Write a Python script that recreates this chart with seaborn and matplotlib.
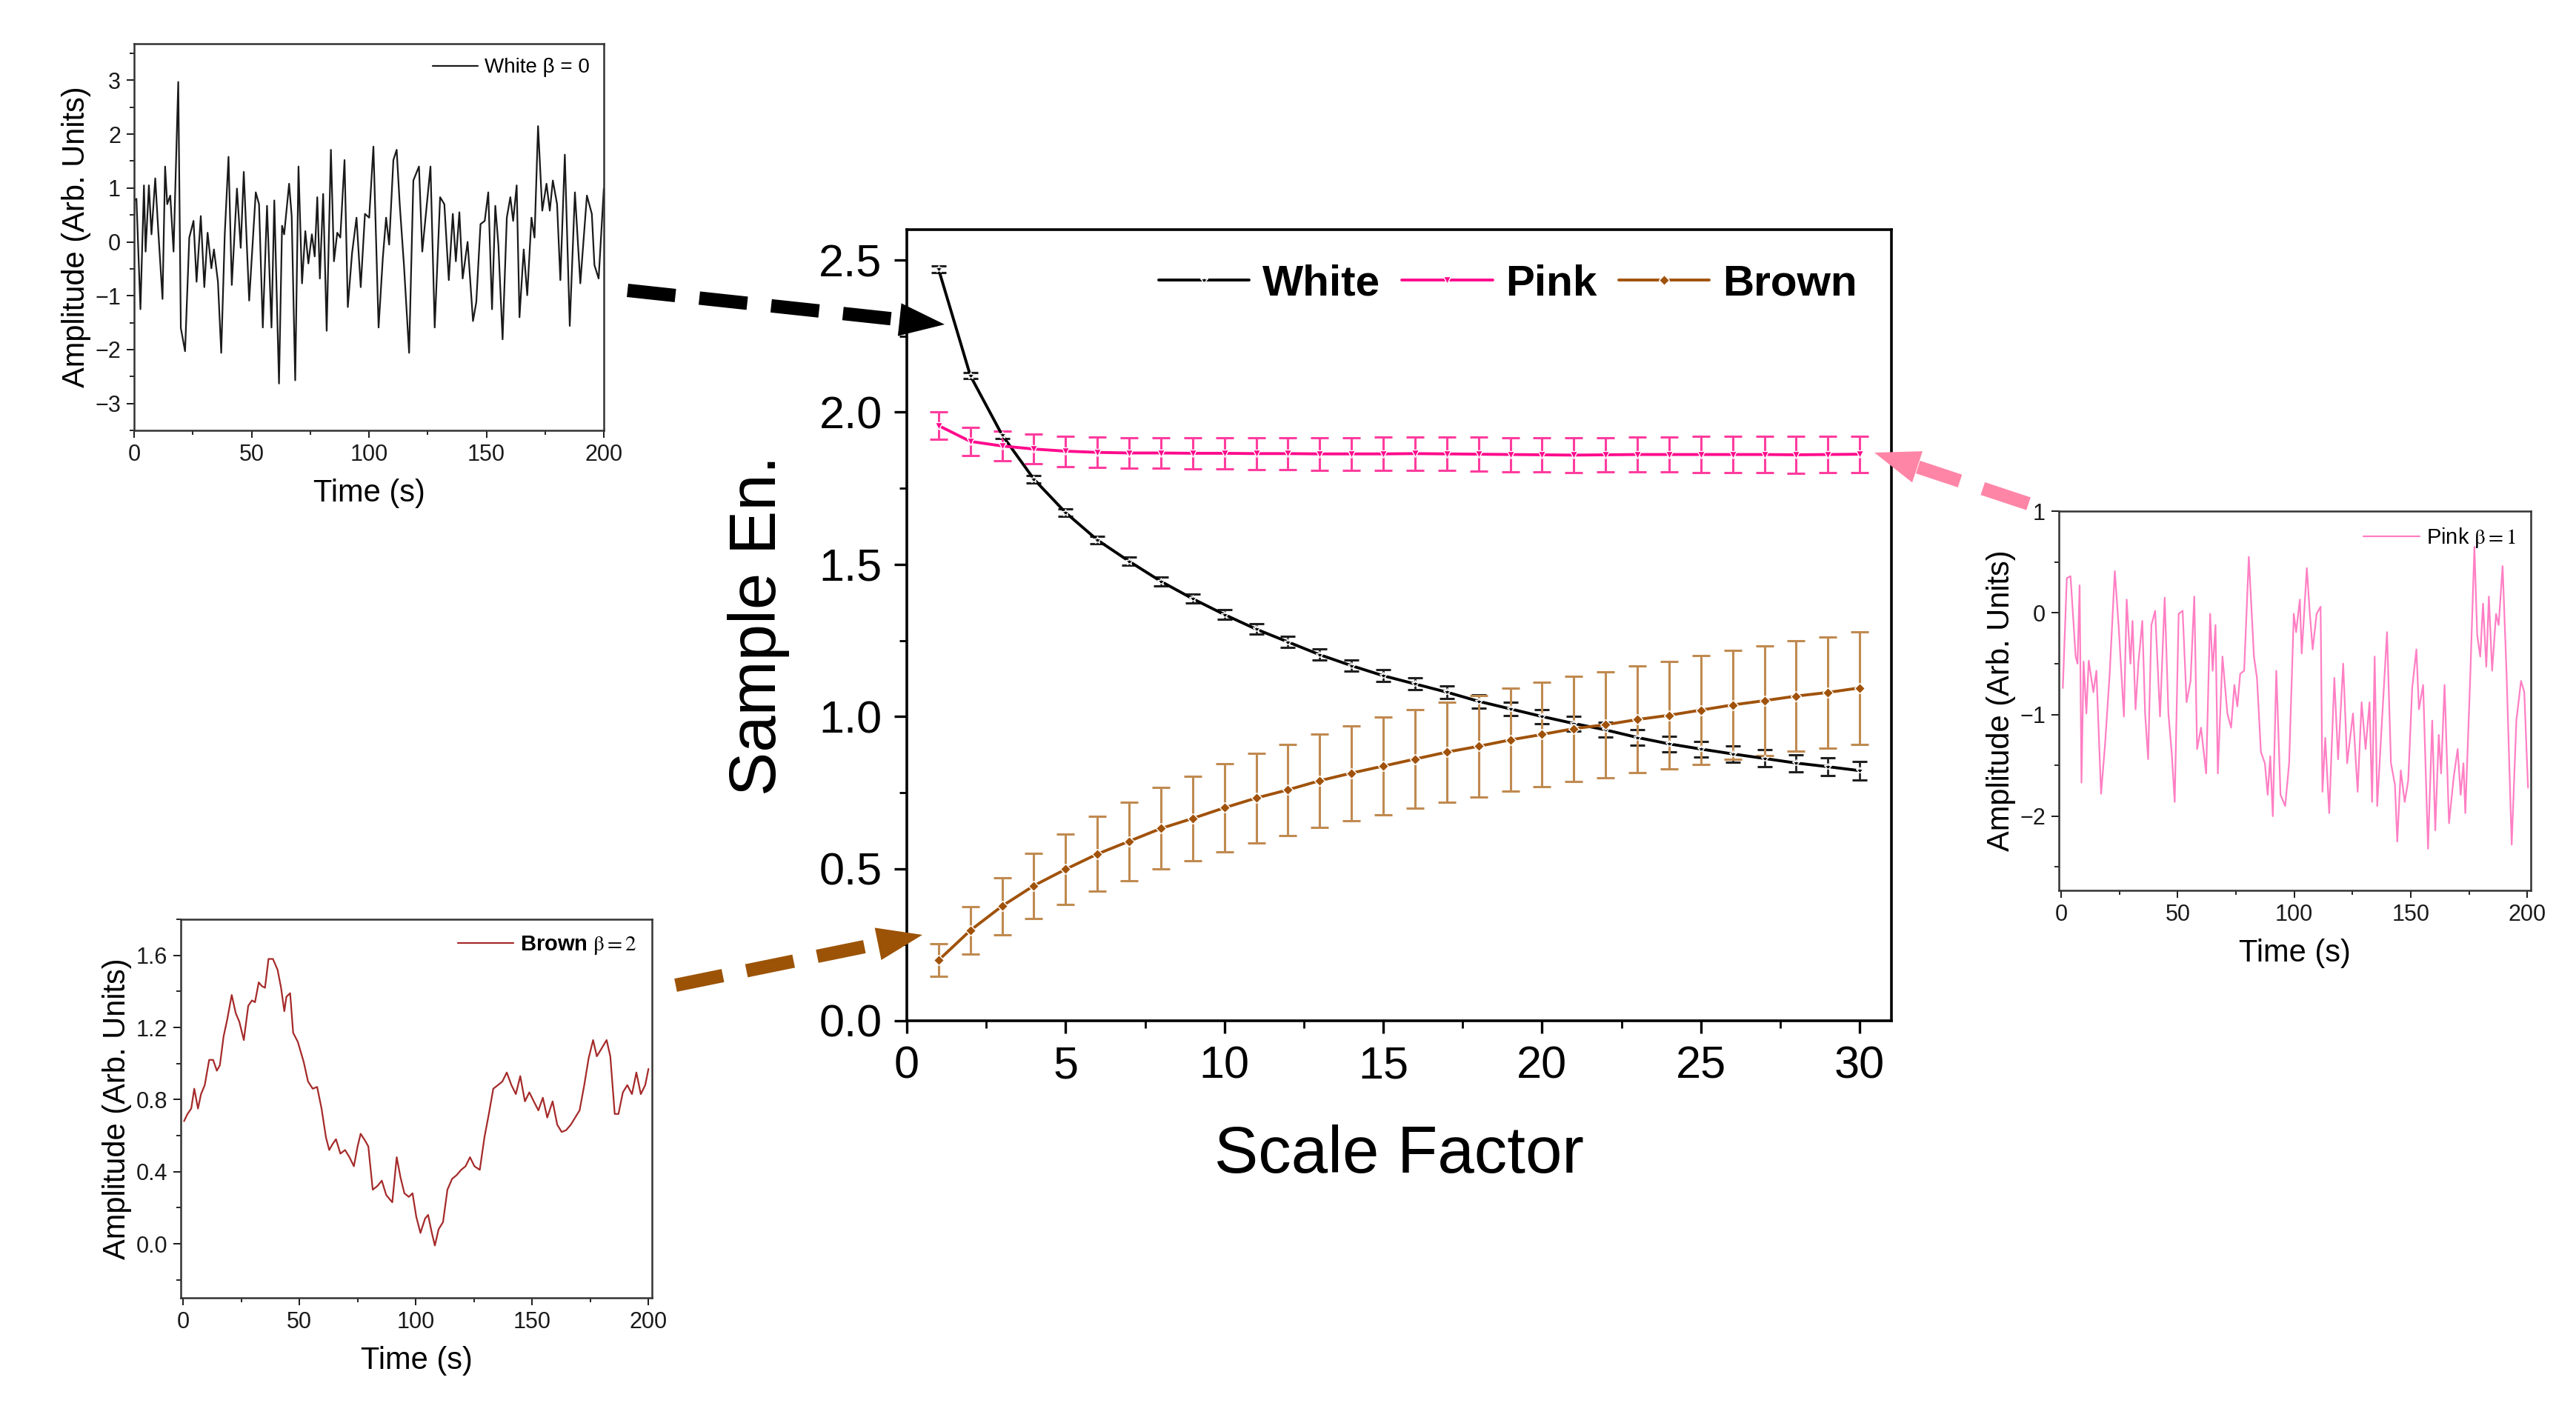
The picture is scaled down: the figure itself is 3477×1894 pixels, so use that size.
import numpy as np
import pandas as pd
import matplotlib
matplotlib.use("Agg")
import matplotlib.pyplot as plt
import seaborn as sb
from matplotlib.lines import Line2D
from matplotlib.patches import FancyArrowPatch
from matplotlib.ticker import MultipleLocator

# --- main chart: sample entropy vs scale factor ---
scale = list(range(1, 31))
white_mean = [2.47, 2.12, 1.925, 1.78, 1.67, 1.58, 1.51, 1.444, 1.387, 1.335,
              1.287, 1.245, 1.203, 1.167, 1.134, 1.107, 1.08, 1.05, 1.025, 1.0,
              0.977, 0.956, 0.931, 0.91, 0.893, 0.877, 0.862, 0.847, 0.835, 0.822]
white_err = [0.01, 0.01, 0.012, 0.012, 0.013, 0.013, 0.014, 0.015, 0.015, 0.016,
             0.017, 0.018, 0.018, 0.019, 0.02, 0.02, 0.021, 0.022, 0.022, 0.023,
             0.024, 0.024, 0.025, 0.026, 0.026, 0.027, 0.028, 0.028, 0.029, 0.03]
pink_mean = [1.956, 1.904, 1.889, 1.879, 1.872, 1.868, 1.866, 1.866, 1.865, 1.865,
             1.864, 1.864, 1.863, 1.863, 1.863, 1.864, 1.863, 1.862, 1.861, 1.86,
             1.859, 1.86, 1.861, 1.861, 1.861, 1.861, 1.861, 1.86, 1.861, 1.862]
pink_err = [0.046, 0.047, 0.048, 0.049, 0.05, 0.05, 0.051, 0.051, 0.052, 0.052,
            0.053, 0.053, 0.054, 0.054, 0.055, 0.055, 0.055, 0.056, 0.056, 0.057,
            0.057, 0.057, 0.058, 0.058, 0.059, 0.059, 0.059, 0.06, 0.06, 0.06]
brown_mean = [0.199, 0.297, 0.377, 0.444, 0.498, 0.548, 0.59, 0.632, 0.665, 0.70,
              0.732, 0.759, 0.789, 0.814, 0.837, 0.86, 0.883, 0.902, 0.923, 0.941,
              0.96, 0.973, 0.99, 1.004, 1.021, 1.038, 1.052, 1.067, 1.079, 1.094]
brown_err = [0.054, 0.078, 0.094, 0.107, 0.115, 0.123, 0.129, 0.134, 0.139, 0.144,
             0.147, 0.15, 0.153, 0.156, 0.16, 0.162, 0.164, 0.166, 0.169, 0.172,
             0.173, 0.174, 0.175, 0.176, 0.178, 0.179, 0.18, 0.182, 0.183, 0.185]

# --- inset: white noise (beta = 0) ---
white_t = [0, 1, 2.7, 4.2, 4.9, 6.3, 7.4, 9, 10.3, 12.1, 13.2, 14.1, 15.4, 16.8, 18.8,
           19.9, 21.7, 23.5, 25.3, 26.6, 28.4, 29.9, 31.3, 32.9, 34, 35.7, 37.1, 38.6,
           40.2, 41.6, 43.8, 45.4, 46.7, 49, 51.8, 53.2, 54.8, 56.6, 58.5, 59.7, 61.7,
           63, 63.9, 66, 67.1, 68.6, 70, 71.5, 72.9, 74.2, 75.7, 76.9, 78, 79.1, 80.5,
           82, 83.8, 85.1, 86.5, 87.8, 89.6, 91, 92.8, 94.7, 96.5, 98.3, 100.1, 101.9,
           104.1, 105.9, 107.3, 108.6, 110.4, 111.8, 113.1, 114.9, 117.1, 118.9, 121.3,
           122.7, 126.2, 128, 130.3, 132.1, 134, 135.7, 137, 138.5, 139.9, 142, 144.3,
           145.7, 147.5, 149.3, 150.8, 152.4, 153.8, 155.1, 156.9, 158.7, 160.2, 161.4,
           162.9, 164.1, 165.9, 167.4, 169.2, 170.5, 172, 173.8, 175.6, 177, 178.3,
           180.1, 181.5, 183.4, 185.5, 187.7, 190, 192.8, 194.9, 196, 197.8, 200]
white_v = [0.77, 0.8, -1.25, 1.05, -0.18, 1.05, 0.14, 1.18, 0.2, -1.06, 1.4, 0.7, 0.86,
           -0.18, 2.97, -1.6, -2.03, 0.08, 0.39, -0.74, 0.48, -0.84, 0.17, -0.49, -0.14,
           -0.74, -2.06, 0.14, 1.58, -0.8, 0.99, -0.11, 1.3, -1.09, 0.92, 0.7, -1.59,
           0.67, -1.59, 0.77, -2.63, 0.3, 0.14, 1.08, 0.48, -2.57, 1.4, -0.77, 0.2,
           -0.4, 0.14, -0.27, 0.83, -0.68, 0.89, -1.65, 1.71, -0.36, 0.17, 0.08, 1.52,
           -1.21, -0.21, 0.45, -0.84, 0.52, 0.45, 1.77, -1.59, -0.3, 0.45, -0.05, 1.52,
           1.71, 0.7, -0.43, -2.06, 1.14, 1.4, -0.18, 1.4, -1.59, 0.83, 0.7, -0.71,
           0.52, -0.36, 0.55, -0.68, 0.0, -1.47, -1.12, 0.33, 0.39, 0.92, -1.25, 0.67,
           -0.05, -1.81, 0.45, 0.83, 0.39, 1.05, -1.4, -0.14, -0.99, 0.45, 0.08, 2.15,
           0.58, 1.08, 0.58, 1.14, 0.7, -0.71, 1.62, -1.56, 0.92, -0.77, 0.86, 0.52,
           -0.43, -0.68, 0.99]

# --- inset: pink noise (beta = 1) ---
pink_t = [0.7, 2.4, 4, 6.2, 7, 7.9, 8.7, 9.6, 10.8, 11.8, 12.9, 13.8, 15.1, 17.1, 18.8,
          20.8, 23, 24.7, 26.9, 28.1, 29.7, 30.6, 31.9, 33.1, 34.8, 36, 37.3, 38.7,
          40.3, 42.4, 44.4, 46, 47.4, 48.7, 50.4, 52.1, 53.8, 55.5, 57.1, 58.3, 60,
          62.2, 63.9, 65, 66.2, 67.2, 69.2, 71.3, 72.9, 74.3, 75.6, 76.8, 78.5, 80.5,
          82.7, 84, 85.7, 87.4, 88.6, 89.7, 90.8, 92.3, 94.1, 96.1, 97.8, 99.8, 100.8,
          102.4, 103.2, 105.4, 106.6, 107.9, 109.6, 111.3, 112.1, 113.3, 115, 117.2,
          118.8, 121, 122.7, 125.2, 127.2, 128.9, 130.6, 132.3, 133.4, 134.5, 135.6,
          137.3, 139.8, 141.5, 143.2, 144.2, 145.7, 147.4, 148.9, 150.6, 152.4, 153.5,
          155.3, 157.4, 159.2, 160.5, 162, 163, 164.5, 166.4, 168.4, 170.1, 171.4,
          172.6, 173.4, 175.5, 177.3, 178.5, 179.8, 181, 182.4, 183.5, 184.9, 186.6,
          187.7, 189.4, 191.1, 193.3, 195.3, 197.3, 198.7, 200.3]
pink_v = [-0.74, 0.34, 0.36, -0.43, -0.5, 0.27, -1.67, -0.48, -0.99, -0.47, -0.64,
          -0.78, -0.57, -1.78, -1.3, -0.6, 0.41, -0.15, -1.02, 0.13, -0.5, -0.08,
          -0.95, -0.5, -0.08, -0.99, -1.44, -0.12, 0.02, -1.02, 0.15, -0.99, -1.37,
          -1.86, -0.01, 0.02, -0.88, -0.67, 0.16, -1.34, -1.13, -1.58, -0.01, -0.57,
          -0.12, -1.58, -0.43, -0.99, -1.13, -0.71, -0.92, -0.6, -0.57, 0.55, -0.43,
          -0.64, -1.37, -1.48, -1.79, -1.41, -2.0, -0.57, -1.79, -1.9, -1.48, -0.01,
          -0.19, 0.13, -0.4, 0.44, 0.02, -0.36, -0.01, 0.06, -1.76, -1.23, -1.97,
          -0.64, -1.44, -0.5, -1.48, -0.99, -1.76, -0.88, -1.34, -0.88, -1.86, -0.43,
          -1.9, -1.2, -0.19, -1.48, -1.69, -2.25, -1.55, -1.86, -1.65, -0.74, -0.36,
          -0.95, -0.71, -2.32, -1.06, -2.14, -1.2, -1.58, -0.71, -2.07, -1.62, -1.34,
          -1.79, -1.48, -1.97, -0.64, 0.65, -0.22, -0.43, 0.09, -0.53, 0.16, -0.57,
          -0.01, -0.12, 0.46, -0.6, -2.28, -1.06, -0.67, -0.78, -1.72]

# --- inset: brown noise (beta = 2) ---
brown_t = [0.4, 1.9, 3.5, 4.8, 6.4, 7.7, 9.3, 11.2, 12.9, 14.5, 15.8, 17.4, 18.9, 20.9,
           22.6, 24.2, 26.1, 28, 29.6, 30.9, 32.5, 33.8, 35.2, 36.7, 38.6, 40.6, 42.1,
           43.5, 44.4, 46, 47.3, 49.3, 51.8, 53.7, 55.7, 57.6, 59.5, 61.4, 62.8, 64.1,
           65.7, 67.6, 69.6, 71.5, 73.4, 75, 76.3, 78.3, 79.6, 81.5, 83.5, 85.4, 87.3,
           89.9, 91.8, 93.4, 95.1, 97, 98.6, 100.2, 102, 104, 105.3, 106.9, 108.2,
           109.8, 111.7, 113.6, 115.6, 117.5, 119.5, 121.4, 123.3, 125.2, 127.5, 129.5,
           131.4, 133.3, 135.3, 137.2, 139.1, 141.1, 143, 144.9, 146.9, 148.8, 150.7,
           152.7, 154.6, 156.5, 158.8, 160.8, 162.7, 164.6, 166.6, 168.5, 170.4, 172.4,
           174.3, 176.2, 177.8, 179.7, 182, 183.6, 185.5, 187.1, 189, 190.9, 192.9,
           194.8, 196.7, 198.6, 200]
brown_v = [0.68, 0.72, 0.75, 0.86, 0.75, 0.83, 0.88, 1.02, 1.02, 0.96, 0.99, 1.15, 1.24,
           1.38, 1.28, 1.23, 1.13, 1.32, 1.35, 1.34, 1.45, 1.43, 1.42, 1.58, 1.58, 1.52,
           1.42, 1.29, 1.37, 1.39, 1.17, 1.12, 1.01, 0.9, 0.86, 0.87, 0.75, 0.59, 0.52,
           0.55, 0.58, 0.5, 0.52, 0.48, 0.43, 0.54, 0.61, 0.57, 0.54, 0.3, 0.32, 0.35,
           0.27, 0.23, 0.48, 0.37, 0.28, 0.26, 0.28, 0.15, 0.06, 0.14, 0.16, 0.06, -0.01,
           0.08, 0.12, 0.3, 0.36, 0.38, 0.41, 0.43, 0.48, 0.43, 0.41, 0.59, 0.72, 0.86,
           0.88, 0.9, 0.95, 0.88, 0.83, 0.93, 0.79, 0.84, 0.79, 0.74, 0.81, 0.7, 0.79,
           0.66, 0.62, 0.63, 0.66, 0.7, 0.74, 0.88, 1.03, 1.13, 1.04, 1.08, 1.13, 1.04,
           0.72, 0.72, 0.84, 0.88, 0.83, 0.95, 0.83, 0.88, 0.97]

W, H = 3477, 1894


def fx(px):
    return px / W


def fy(py):
    return 1 - py / H


def style_inset(ax, ylim, ymaj, ymin):
    ax.set_xlim(-1, 201.5)
    ax.set_ylim(*ylim)
    ax.xaxis.set_major_locator(MultipleLocator(50))
    ax.xaxis.set_minor_locator(MultipleLocator(25))
    ax.yaxis.set_major_locator(MultipleLocator(ymaj))
    ax.yaxis.set_minor_locator(MultipleLocator(ymin))
    ax.tick_params(which="major", direction="out", length=3.5, width=0.7,
                   labelsize=11, colors="#1a1a1a", pad=3)
    ax.tick_params(which="minor", direction="out", length=2, width=0.6)
    for sp in ax.spines.values():
        sp.set_linewidth(0.9)
        sp.set_color("#333333")
    ax.set_xlabel("Time (s)", fontsize=15, labelpad=6)
    ax.set_ylabel("Amplitude (Arb. Units)", fontsize=15, labelpad=2)


def dashed_arrow(fig, start, tip, color, lw=6.5):
    # dashed shaft plus a solid head, in figure pixel coordinates
    sx, sy = start
    tx, ty = tip
    d = np.hypot(tx - sx, ty - sy)
    ux, uy = (tx - sx) / d, (ty - sy) / d
    head = 62
    bx, by = tx - ux * head, ty - uy * head
    fig.add_artist(Line2D([fx(sx), fx(bx)], [fy(sy), fy(by)], transform=fig.transFigure,
                          color=color, lw=lw, linestyle=(0, (3.6, 1.8)),
                          solid_capstyle="butt", dash_capstyle="butt"))
    fig.add_artist(FancyArrowPatch((fx(bx - ux * 8), fy(by - uy * 8)), (fx(tx), fy(ty)),
                                   transform=fig.transFigure, color=color, lw=0,
                                   arrowstyle="-|>,head_length=22,head_width=8",
                                   mutation_scale=1, shrinkA=0, shrinkB=0))


sb.set_theme(style="ticks")
plt.rcParams["font.family"] = ["Liberation Sans", "DejaVu Sans"]
plt.rcParams["mathtext.fontset"] = "stix"
for key in ["text.color", "axes.labelcolor", "xtick.color", "ytick.color"]:
    plt.rcParams[key] = "black"

fig = plt.figure(figsize=(W / 200, H / 200), dpi=200)
fig.patch.set_facecolor("white")

# main axes
ax = fig.add_axes([fx(1224), fy(1378), fx(2553) - fx(1224), fy(310) - fy(1378)])
c_white, c_pink, c_brown = "#000000", "#FF0A8C", "#A0520A"

ax.errorbar(scale, white_mean, yerr=white_err, fmt="none", ecolor="#202020",
            elinewidth=1.0, capsize=3.6, capthick=1.1)
ax.errorbar(scale, pink_mean, yerr=pink_err, fmt="none", ecolor="#FF3D9E",
            elinewidth=1.1, capsize=4.2, capthick=1.1)
ax.errorbar(scale, brown_mean, yerr=brown_err, fmt="none", ecolor="#C08A50",
            elinewidth=1.1, capsize=4.2, capthick=1.1)

main_df = pd.DataFrame({
    "scale": scale * 3,
    "value": white_mean + pink_mean + brown_mean,
    "noise": ["White"] * 30 + ["Pink"] * 30 + ["Brown"] * 30,
})
sb.lineplot(data=main_df, x="scale", y="value", hue="noise", style="noise",
            palette={"White": c_white, "Pink": c_pink, "Brown": c_brown},
            markers={"White": "*", "Pink": "v", "Brown": "D"}, dashes=False,
            markersize=3.5, linewidth=1.4, markeredgewidth=0.5, ax=ax)

ax.set_xlim(0, 31)
ax.set_ylim(0, 2.6)
ax.xaxis.set_major_locator(MultipleLocator(5))
ax.xaxis.set_minor_locator(MultipleLocator(2.5))
ax.yaxis.set_major_locator(MultipleLocator(0.5))
ax.yaxis.set_minor_locator(MultipleLocator(0.25))
ax.tick_params(which="major", direction="out", length=6, width=1.2, labelsize=22, pad=6)
ax.tick_params(which="minor", direction="out", length=3.5, width=1.0)
for sp in ax.spines.values():
    sp.set_linewidth(1.3)
    sp.set_color("black")
ax.set_xlabel("Scale Factor", fontsize=32, labelpad=18)
ax.set_ylabel("Sample En.", fontsize=32, labelpad=14)
ax.legend(loc="upper right", ncol=3, frameon=False, title=None,
          prop={"weight": "bold", "size": 21}, handlelength=2.1,
          handletextpad=0.3, columnspacing=0.5, borderaxespad=0.4)

# inset: white noise
ax_w = fig.add_axes([fx(181), fy(581), fx(815) - fx(181), fy(59) - fy(581)])
sb.lineplot(x=white_t, y=white_v, color="#1a1a1a", linewidth=0.8, ax=ax_w,
            label="White β = 0")
style_inset(ax_w, (-3.5, 3.68), 1, 0.5)
ax_w.set_xlim(0, 200)
ax_w.legend(loc="upper right", frameon=False, fontsize=10, handlelength=2.2,
            handletextpad=0.3, borderaxespad=0.3)

# inset: pink noise
ax_p = fig.add_axes([fx(2779), fy(1202), fx(3416) - fx(2779), fy(690) - fy(1202)])
sb.lineplot(x=pink_t, y=pink_v, color="#FF7FC4", linewidth=0.8, ax=ax_p,
            label=r"Pink $\mathrm{β = 1}$")
style_inset(ax_p, (-2.73, 1.0), 1, 0.5)
ax_p.legend(loc="upper right", frameon=False, fontsize=10.5, handlelength=2.6,
            handletextpad=0.3, borderaxespad=0.3)

# inset: brown noise
ax_b = fig.add_axes([fx(244), fy(1752), fx(880) - fx(244), fy(1241) - fy(1752)])
sb.lineplot(x=brown_t, y=brown_v, color="#A52A2A", linewidth=0.8, ax=ax_b,
            label=r"Brown $\mathrm{β = 2}$")
style_inset(ax_b, (-0.3, 1.8), 0.4, 0.2)
ax_b.yaxis.set_major_formatter(matplotlib.ticker.FormatStrFormatter("%.1f"))
ax_b.legend(loc="upper right", frameon=False, prop={"weight": "bold", "size": 10.5},
            handlelength=2.6, handletextpad=0.3, borderaxespad=0.3)

# connecting arrows
dashed_arrow(fig, (847, 392), (1275, 438), "black")
dashed_arrow(fig, (912, 1330), (1245, 1262), "#9C5306")
dashed_arrow(fig, (2738, 680), (2530, 611), "#FF85A7")

fig.savefig("out.png", dpi=200, facecolor="white")
